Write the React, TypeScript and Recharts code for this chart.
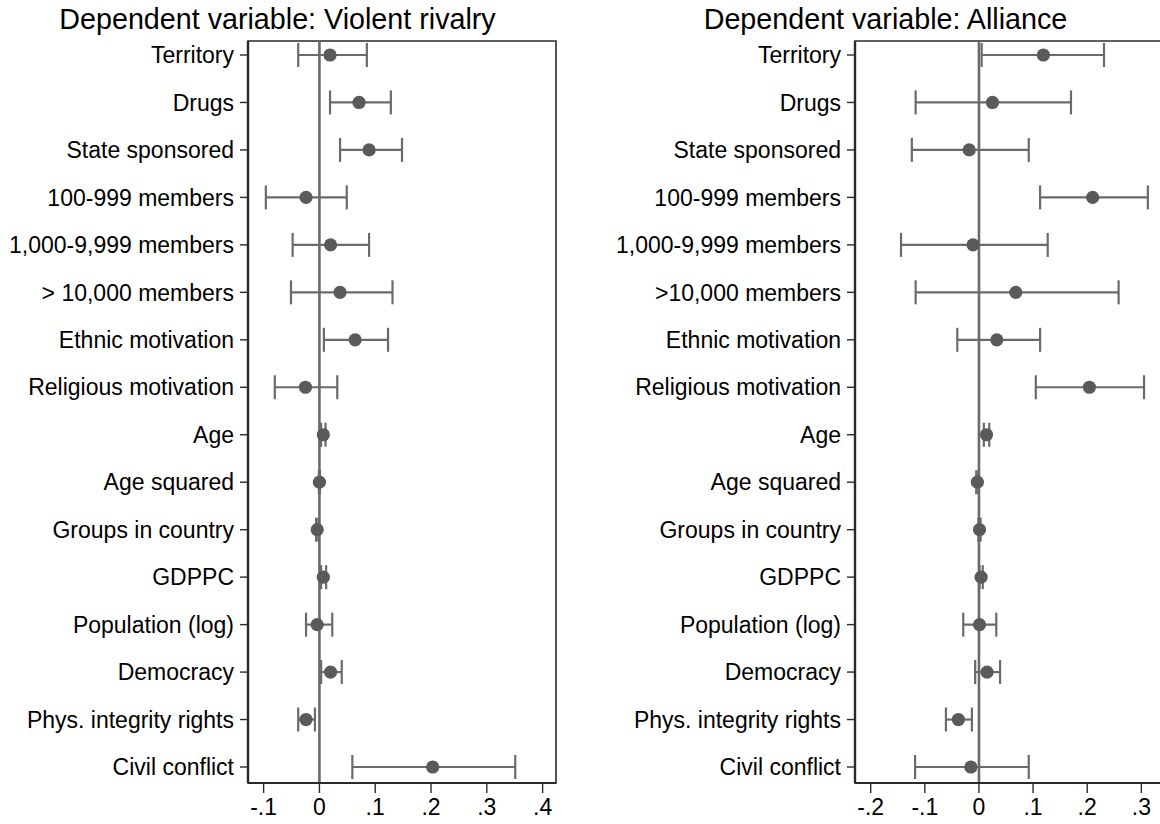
import React from "react";
import {
  ComposedChart,
  Scatter,
  XAxis,
  YAxis,
  ErrorBar,
  ReferenceLine,
  ReferenceArea,
} from "recharts";

const rivalryRows = [
  "Territory", "Drugs", "State sponsored", "100-999 members", "1,000-9,999 members",
  "> 10,000 members", "Ethnic motivation", "Religious motivation", "Age", "Age squared",
  "Groups in country", "GDPPC", "Population (log)", "Democracy", "Phys. integrity rights",
  "Civil conflict",
];
const allianceRows = [
  "Territory", "Drugs", "State sponsored", "100-999 members", "1,000-9,999 members",
  ">10,000 members", "Ethnic motivation", "Religious motivation", "Age", "Age squared",
  "Groups in country", "GDPPC", "Population (log)", "Democracy", "Phys. integrity rights",
  "Civil conflict",
];

const rivalryCoef = [0.019, 0.071, 0.089, -0.024, 0.020, 0.037, 0.064, -0.025, 0.007, 0.000, -0.004, 0.007, -0.004, 0.020, -0.024, 0.203];
const rivalryLow = [-0.038, 0.019, 0.037, -0.096, -0.048, -0.051, 0.008, -0.080, 0.003, -0.001, -0.006, 0.003, -0.024, 0.003, -0.038, 0.059];
const rivalryHigh = [0.085, 0.128, 0.148, 0.049, 0.089, 0.131, 0.123, 0.032, 0.011, 0.001, -0.002, 0.012, 0.023, 0.040, -0.008, 0.351];

const allianceCoef = [0.119, 0.025, -0.018, 0.210, -0.011, 0.068, 0.033, 0.204, 0.014, -0.003, 0.001, 0.004, 0.001, 0.015, -0.038, -0.015];
const allianceLow = [0.005, -0.117, -0.124, 0.113, -0.144, -0.117, -0.040, 0.105, 0.009, -0.005, -0.001, 0.001, -0.029, -0.007, -0.061, -0.118];
const allianceHigh = [0.231, 0.170, 0.092, 0.312, 0.127, 0.258, 0.113, 0.305, 0.019, -0.001, 0.003, 0.007, 0.032, 0.039, -0.013, 0.092];

const rivalryTicks = [-0.1, 0, 0.1, 0.2, 0.3, 0.4];
const allianceTicks = [-0.2, -0.1, 0, 0.1, 0.2, 0.3];
const rowTicks = rivalryRows.map((_, i) => i + 1);

const FONT = "'Liberation Sans', Arial, Helvetica, sans-serif";
const AXIS = "#2a2a2a";
const DOT = "#5a5a5a";
const LINE = "#6a6a6a";

const fmt = (v: number) => {
  if (Math.abs(v) < 1e-9) return "0";
  const s = Math.abs(v).toFixed(1).replace(/^0/, "");
  return v < 0 ? "-" + s : s;
};

const build = (coef: number[], lo: number[], hi: number[]) =>
  coef.map((c, i) => ({ row: i + 1, coef: c, err: [c - lo[i], hi[i] - c] }));

const Dot = (p: any) => <circle cx={p.cx} cy={p.cy} r={6.6} fill={DOT} />;

type PanelProps = {
  width: number;
  yWidth: number;
  right: number;
  domain: [number, number];
  ticks: number[];
  rows: string[];
  data: any[];
};

const YD: [number, number] = [0.705, 16.337];

const Panel = ({ width, yWidth, right, domain, ticks, rows, data }: PanelProps) => (
  <ComposedChart
    width={width}
    height={824}
    margin={{ top: 41, right, bottom: 0, left: 0 }}
  >
    <XAxis
      type="number"
      dataKey="coef"
      domain={domain}
      ticks={ticks}
      allowDataOverflow
      tickFormatter={fmt}
      height={41}
      tickSize={10}
      tickMargin={6}
      axisLine={{ stroke: AXIS, strokeWidth: 2 }}
      tickLine={{ stroke: AXIS, strokeWidth: 1.4 }}
      tick={{ fill: "#000", fontSize: 23, fontFamily: FONT }}
      interval={0}
    />
    <YAxis
      type="number"
      dataKey="row"
      domain={YD}
      reversed
      ticks={rowTicks}
      allowDataOverflow
      interval={0}
      width={yWidth}
      tickSize={8}
      tickMargin={6}
      tickFormatter={(v: number) => rows[v - 1] ?? ""}
      axisLine={{ stroke: AXIS, strokeWidth: 2.4 }}
      tickLine={{ stroke: AXIS, strokeWidth: 1.4 }}
      tick={{ fill: "#000", fontSize: 23, fontFamily: FONT }}
    />
    <ReferenceArea
      x1={domain[0]}
      x2={domain[1]}
      y1={YD[0]}
      y2={YD[1]}
      fill="none"
      fillOpacity={0}
      stroke={AXIS}
      strokeWidth={1.6}
      ifOverflow="visible"
    />
    <ReferenceLine x={0} stroke={LINE} strokeWidth={2.6} />
    <Scatter data={data} dataKey="coef" shape={Dot} isAnimationActive={false}>
      <ErrorBar
        dataKey="err"
        direction="x"
        width={12}
        stroke={LINE}
        strokeWidth={2.2}
        isAnimationActive={false}
      />
    </Scatter>
  </ComposedChart>
);

const titleStyle: React.CSSProperties = {
  position: "absolute",
  top: 5,
  fontFamily: FONT,
  fontSize: 28.7,
  lineHeight: 1,
  whiteSpace: "nowrap",
  color: "#000",
  transform: "translateX(-50%)",
};

export default function App() {
  const rivalry = build(rivalryCoef, rivalryLow, rivalryHigh);
  const alliance = build(allianceCoef, allianceLow, allianceHigh);
  return (
    <div
      style={{
        position: "absolute",
        left: 0,
        top: 0,
        width: 1160,
        height: 824,
        overflow: "hidden",
        background: "#fff",
      }}
    >
      <div style={{ position: "absolute", left: 0, top: 0 }}>
        <Panel
          width={580}
          yWidth={248}
          right={24}
          domain={[-0.128, 0.424]}
          ticks={rivalryTicks}
          rows={rivalryRows}
          data={rivalry}
        />
      </div>
      <div style={{ position: "absolute", left: 580, top: 0 }}>
        <Panel
          width={600}
          yWidth={275}
          right={17}
          domain={[-0.229, 0.34]}
          ticks={allianceTicks}
          rows={allianceRows}
          data={alliance}
        />
      </div>
      <div style={{ ...titleStyle, left: 277.5 }}>Dependent variable: Violent rivalry</div>
      <div style={{ ...titleStyle, left: 885.5 }}>Dependent variable: Alliance</div>
    </div>
  );
}
